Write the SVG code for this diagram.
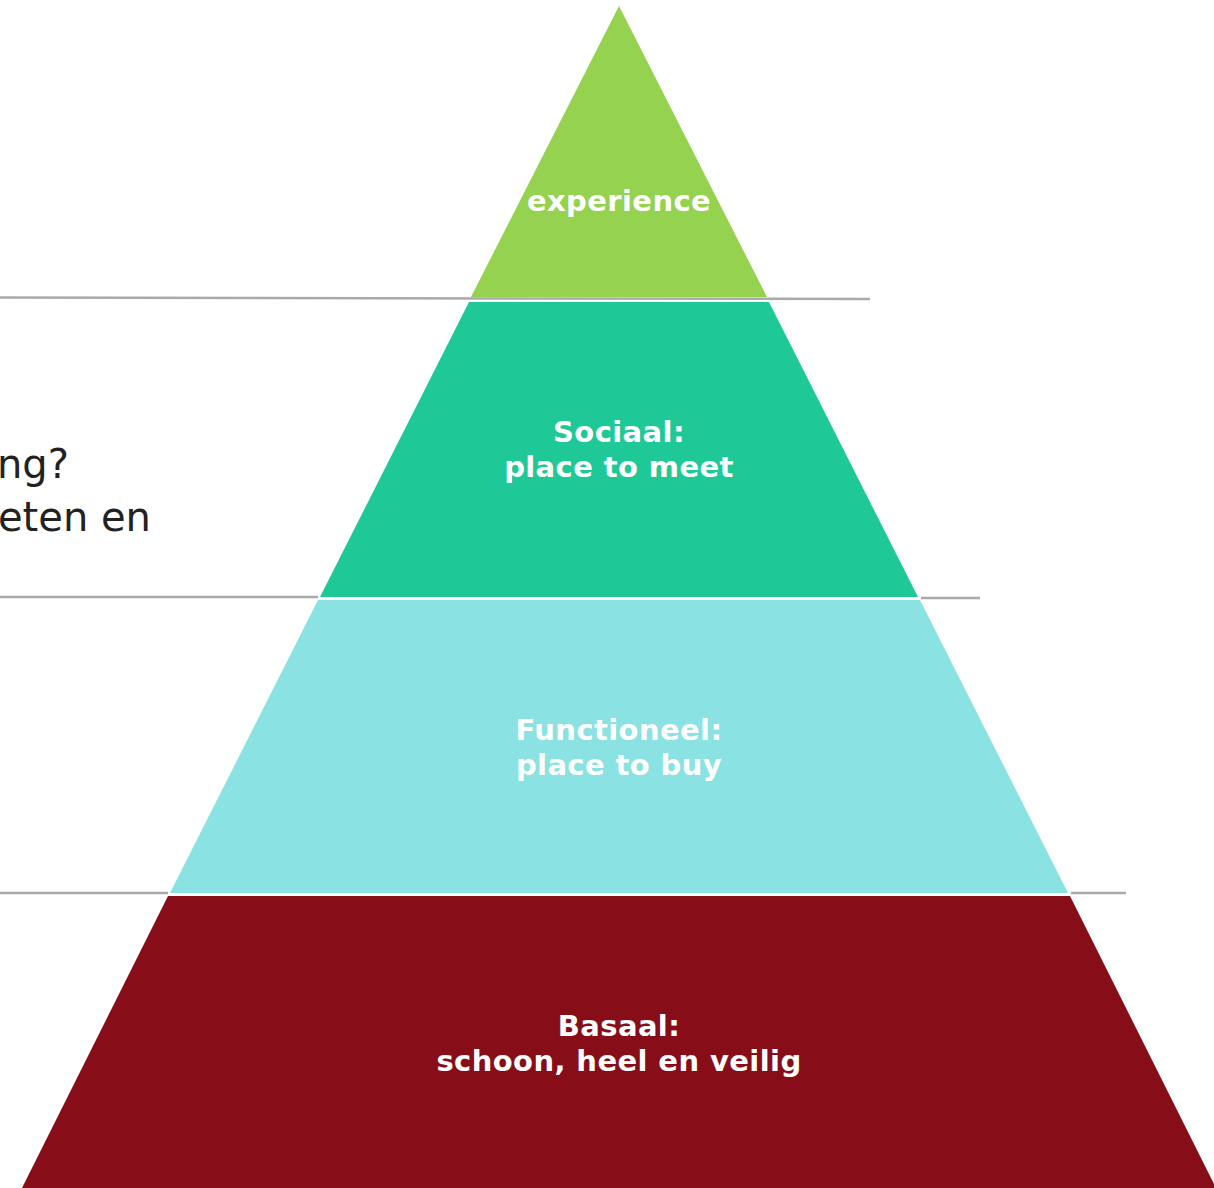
<svg xmlns="http://www.w3.org/2000/svg" width="1214" height="1188" viewBox="0 0 1214 1188">
<style>
.lbl{font-family:"DejaVu Sans","Noto Sans","Liberation Sans",sans-serif;font-weight:700;font-size:29px;letter-spacing:0.4px;fill:#ffffff;text-anchor:middle}
.side{font-family:"DejaVu Sans","Noto Sans","Liberation Sans",sans-serif;font-size:40px;fill:#222222}
.sep{stroke:#aaaaaa;stroke-width:2.5;fill:none}
</style>
<rect width="1214" height="1188" fill="#ffffff"/>
<g id="side-text">
<text class="side" x="-3" y="478">ng?</text>
<text class="side" x="-2" y="531">eten en</text>
</g>
<g id="connectors">
<line class="sep" x1="0" y1="297.5" x2="870" y2="299"/>
<line class="sep" x1="0" y1="597" x2="318" y2="597"/>
<line class="sep" x1="921" y1="598" x2="980" y2="598"/>
<line class="sep" x1="0" y1="893" x2="168" y2="893"/>
<line class="sep" x1="1071" y1="893" x2="1126" y2="893"/>
</g>
<g id="experience">
<polygon points="619,6 767,297 471,297" fill="#94d250"/>
<text class="lbl" x="619" y="211">experience</text>
</g>
<g id="sociaal">
<polygon points="469,302 769,302 918,597 320,597" fill="#1fc997"/>
<text class="lbl" x="619" y="442">Sociaal:</text>
<text class="lbl" x="619" y="477">place to meet</text>
</g>
<g id="functioneel">
<polygon points="318,600 920,600 1068,893 170,893" fill="#8be2e2"/>
<text class="lbl" x="619" y="740">Functioneel:</text>
<text class="lbl" x="619" y="775">place to buy</text>
</g>
<g id="basaal">
<polygon points="168,896 1070,896 1216,1188 22,1188" fill="#870e18"/>
<text class="lbl" x="619" y="1036">Basaal:</text>
<text class="lbl" x="619" y="1071">schoon, heel en veilig</text>
</g>
</svg>
